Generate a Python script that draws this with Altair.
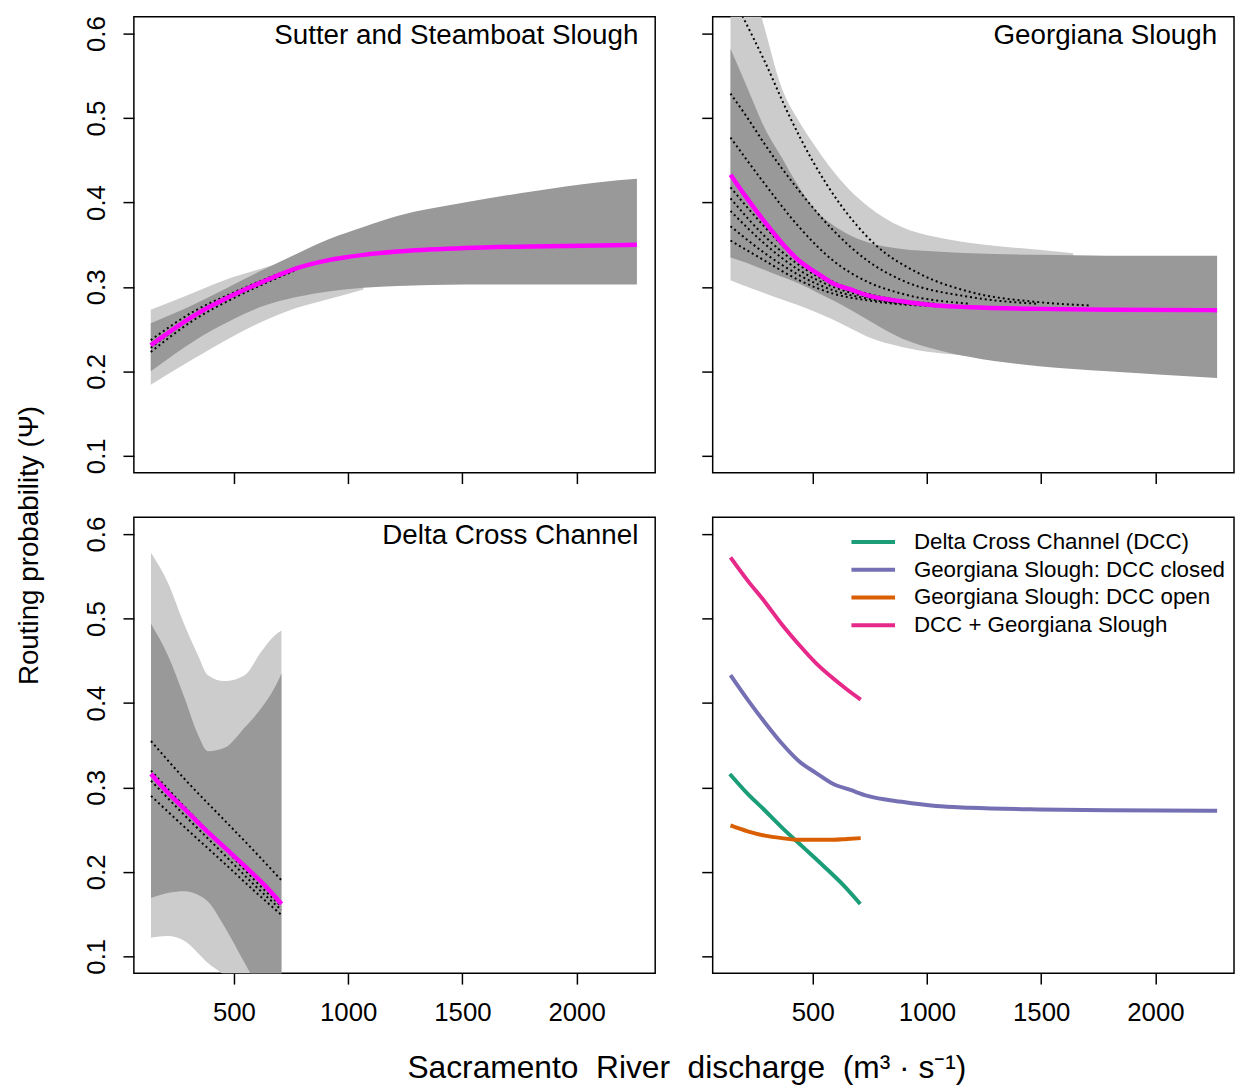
import altair as alt
import pandas as pd

FONT = "Liberation Sans"
LIGHT = "#cccccc"
DARK = "#999999"
MAGENTA = "#ff00ff"

# ---- Sutter and Steamboat Slough
ss_x = [136, 331, 478, 625, 773, 920, 1067, 1215, 1509, 1804, 2099, 2264]
ss_mean = [0.231, 0.267, 0.288, 0.306, 0.322, 0.332, 0.338, 0.342, 0.346, 0.348, 0.349, 0.350]
ss_dark_hi = [0.257, 0.280, 0.300, 0.320, 0.339, 0.357, 0.371, 0.384, 0.400, 0.413, 0.424, 0.428]
ss_dark_lo = [0.200, 0.237, 0.259, 0.277, 0.288, 0.295, 0.299, 0.301, 0.303, 0.303, 0.303, 0.303]
ss_light_x = [136, 331, 478, 625, 773, 920, 1067]
ss_light_hi = [0.273, 0.294, 0.310, 0.322, 0.333, 0.340, 0.345]
ss_light_lo = [0.184, 0.216, 0.239, 0.259, 0.275, 0.286, 0.297]
ss_dot_x = [136, 331, 478, 625, 773]
ss_dot_1 = [0.237, 0.272, 0.291, 0.308, 0.323]
ss_dot_2 = [0.228, 0.266, 0.287, 0.305, 0.321]
ss_dot_3 = [0.223, 0.262, 0.284, 0.303, 0.320]

# ---- Georgiana Slough
gs_x = [140, 215, 290, 365, 440, 515, 590, 665, 740, 890, 1040, 1190, 1490, 1790, 2270]
gs_mean = [0.433, 0.404, 0.377, 0.352, 0.331, 0.317, 0.304, 0.297, 0.290, 0.283, 0.278, 0.276, 0.274, 0.273, 0.2725]
gs_dark_hi = [0.582, 0.535, 0.488, 0.453, 0.418, 0.390, 0.373, 0.361, 0.353, 0.345, 0.342, 0.340, 0.338, 0.337, 0.337]
gs_dark_lo = [0.335, 0.328, 0.320, 0.312, 0.304, 0.294, 0.284, 0.273, 0.261, 0.239, 0.226, 0.217, 0.206, 0.200, 0.192]
gs_light_x = [140, 215, 275, 365, 440, 515, 590, 665, 740, 890, 1040, 1190, 1490, 1640]
gs_light_hi = [0.72, 0.67, 0.62, 0.535, 0.496, 0.465, 0.437, 0.414, 0.396, 0.371, 0.359, 0.352, 0.344, 0.340]
gs_light_lo = [0.308, 0.300, 0.294, 0.285, 0.278, 0.270, 0.261, 0.251, 0.241, 0.229, 0.222, 0.218, 0.208, 0.205]
gs_dot_1_x = [192, 290, 395, 500, 620, 770, 965, 1190, 1490, 1715]
gs_dot_1 = [0.621, 0.567, 0.504, 0.449, 0.398, 0.351, 0.316, 0.294, 0.282, 0.278]
gs_dot_2_x = [140, 215, 290, 440, 590, 740, 890, 1190, 1490]
gs_dot_2 = [0.529, 0.500, 0.469, 0.414, 0.367, 0.331, 0.308, 0.288, 0.280]
gs_dot_3_x = [140, 290, 440, 590, 740, 890, 1190]
gs_dot_3 = [0.477, 0.422, 0.371, 0.331, 0.306, 0.292, 0.280]
gs_dot_4_x = [140, 290, 440, 590, 740, 1040]
gs_dot_4 = [0.418, 0.371, 0.331, 0.306, 0.292, 0.280]
gs_dot_5 = [0.390, 0.351, 0.320, 0.300, 0.288, 0.278]
gs_dot_6 = [0.355, 0.331, 0.308, 0.292, 0.284, 0.277]
gs_dot_7 = [0.405, 0.360, 0.326, 0.303, 0.290, 0.279]
gs_dot_8 = [0.372, 0.340, 0.314, 0.296, 0.286, 0.278]

# ---- Delta Cross Channel
dcc_x = [137, 210, 284, 342, 386, 459, 547, 620, 678, 708]
dcc_dark_hi = [0.494, 0.457, 0.406, 0.363, 0.343, 0.347, 0.371, 0.394, 0.418, 0.435]
dcc_dark_lo = [0.169, 0.175, 0.177, 0.173, 0.165, 0.135, 0.092, 0.057, 0.033, 0.018]
dcc_light_hi = [0.578, 0.543, 0.492, 0.457, 0.433, 0.426, 0.433, 0.461, 0.480, 0.486]
dcc_light_lo = [0.122, 0.124, 0.118, 0.104, 0.092, 0.077, 0.049, 0.026, 0.010, -0.002]
dcc_mean_x = [137, 210, 284, 371, 459, 547, 635, 708]
dcc_mean = [0.316, 0.294, 0.2745, 0.251, 0.229, 0.207, 0.184, 0.162]
dcc_dot_x = [137, 284, 459, 591, 708]
dcc_dot_1 = [0.355, 0.310, 0.261, 0.224, 0.190]
dcc_dot_2 = [0.308, 0.267, 0.220, 0.184, 0.155]
dcc_dot_3 = [0.290, 0.253, 0.210, 0.177, 0.149]
dcc_dot_4 = [0.320, 0.277, 0.228, 0.190, 0.159]

# ---- comparison panel
cmp_x = [140, 215, 290, 365, 440, 515, 590, 650, 710]
gs_open = [0.255, 0.248, 0.243, 0.240, 0.238, 0.238, 0.238, 0.239, 0.240]
dcc_plus_gs = [0.5725, 0.545, 0.520, 0.493, 0.469, 0.447, 0.429, 0.416, 0.404]
series_names = ["Delta Cross Channel (DCC)", "Georgiana Slough: DCC closed",
                "Georgiana Slough: DCC open", "DCC + Georgiana Slough"]
series_colors = ["#1b9e77", "#7570b3", "#d95f02", "#e7298a"]

x_ticks = [500, 1000, 1500, 2000]
y_ticks = [0.1, 0.2, 0.3, 0.4, 0.5, 0.6]
W, H = 526, 460

XS = alt.Scale(domain=[62, 2344], nice=False, zero=False)
YS = alt.Scale(domain=[0.08, 0.62], nice=False, zero=False)


def xenc(labels):
    return alt.X("x:Q", scale=XS, title=None,
                 axis=alt.Axis(values=x_ticks, labels=labels, format="d", labelPadding=16))


def yenc(field, labels):
    return alt.Y(f"{field}:Q", scale=YS, title=None,
                 axis=alt.Axis(values=y_ticks, labels=labels, format=".1f",
                               labelAngle=270, labelAlign="center",
                               labelBaseline="bottom", labelPadding=14))


def band(xs, lo, hi, color, bx, by):
    df = pd.DataFrame({"x": xs, "lo": lo, "hi": hi})
    return alt.Chart(df).mark_area(color=color, clip=True, opacity=1,
                                   interpolate="monotone").encode(
        x=xenc(bx), y=yenc("lo", by), y2="hi:Q")


def dotted(lines, bx, by):
    rows = []
    for i, (xs, ys) in enumerate(lines):
        rows += [{"x": a, "y": b, "id": i} for a, b in zip(xs, ys)]
    return alt.Chart(pd.DataFrame(rows)).mark_line(
        color="black", strokeDash=[2, 3], strokeWidth=2, clip=True,
        interpolate="monotone").encode(
        x=xenc(bx), y=yenc("y", by), detail="id:N")


def mean_line(xs, ys, bx, by):
    df = pd.DataFrame({"x": xs, "y": ys})
    return alt.Chart(df).mark_line(color=MAGENTA, strokeWidth=4.5, clip=True,
                                   interpolate="monotone").encode(
        x=xenc(bx), y=yenc("y", by))


def label(text):
    return alt.Chart(pd.DataFrame({"t": [text]})).mark_text(
        align="right", baseline="middle", fontSize=28, font=FONT, color="black").encode(
        text="t:N", x=alt.value(W - 17), y=alt.value(19))


p_ss = alt.layer(
    band(ss_light_x, ss_light_lo, ss_light_hi, LIGHT, False, True),
    band(ss_x, ss_dark_lo, ss_dark_hi, DARK, False, True),
    dotted([(ss_dot_x, ss_dot_1), (ss_dot_x, ss_dot_2), (ss_dot_x, ss_dot_3)], False, True),
    mean_line(ss_x, ss_mean, False, True),
    label("Sutter and Steamboat Slough"),
).properties(width=W, height=H)

p_gs = alt.layer(
    band(gs_light_x, gs_light_lo, gs_light_hi, LIGHT, False, False),
    band(gs_x, gs_dark_lo, gs_dark_hi, DARK, False, False),
    dotted([(gs_dot_1_x, gs_dot_1), (gs_dot_2_x, gs_dot_2), (gs_dot_3_x, gs_dot_3),
            (gs_dot_4_x, gs_dot_4), (gs_dot_4_x, gs_dot_5), (gs_dot_4_x, gs_dot_6),
            (gs_dot_4_x, gs_dot_7), (gs_dot_4_x, gs_dot_8)], False, False),
    mean_line(gs_x, gs_mean, False, False),
    label("Georgiana Slough"),
).properties(width=W, height=H)

p_dcc = alt.layer(
    band(dcc_x, dcc_light_lo, dcc_light_hi, LIGHT, True, True),
    band(dcc_x, dcc_dark_lo, dcc_dark_hi, DARK, True, True),
    dotted([(dcc_dot_x, dcc_dot_1), (dcc_dot_x, dcc_dot_2), (dcc_dot_x, dcc_dot_3),
            (dcc_dot_x, dcc_dot_4)], True, True),
    mean_line(dcc_mean_x, dcc_mean, True, True),
    label("Delta Cross Channel"),
).properties(width=W, height=H)

cmp_rows = []
for name, xs, ys in [(series_names[0], dcc_mean_x, dcc_mean),
                     (series_names[1], gs_x, gs_mean),
                     (series_names[2], cmp_x, gs_open),
                     (series_names[3], cmp_x, dcc_plus_gs)]:
    cmp_rows += [{"x": a, "y": b, "s": name} for a, b in zip(xs, ys)]

p_cmp = alt.Chart(pd.DataFrame(cmp_rows)).mark_line(
    strokeWidth=4, clip=True, interpolate="monotone").encode(
    x=xenc(True),
    y=yenc("y", False),
    color=alt.Color("s:N", scale=alt.Scale(domain=series_names, range=series_colors),
                    sort=series_names,
                    legend=alt.Legend(title=None, orient="none", legendX=733, legendY=517,
                                      symbolType="M-2,0H2", symbolSize=484,
                                      symbolStrokeWidth=4, labelFontSize=22.5,
                                      labelFont=FONT, labelColor="black", labelLimit=500,
                                      labelOffset=28, rowPadding=3)),
).properties(width=W, height=H)

top = alt.hconcat(p_ss, p_gs, spacing=44)
bottom = alt.hconcat(p_dcc, p_cmp, spacing=44)

grid = alt.vconcat(top, bottom, spacing=30).properties(
    title=alt.TitleParams("Routing probability (\u03a8)", orient="left", anchor="middle",
                          fontSize=28, font=FONT, fontWeight="normal", color="black",
                          offset=39, dx=-25))

x_title = ("Sacramento\u00a0\u00a0River\u00a0\u00a0discharge"
           "\u00a0\u00a0(m\u00b3\u00a0\u00b7\u00a0s\u207b\u00b9)")

chart = alt.vconcat(grid).properties(
    title=alt.TitleParams(x_title, orient="bottom", anchor="middle", fontSize=32, font=FONT,
                          fontWeight="normal", color="black", offset=27, dx=62),
    padding={"left": 8, "top": 2, "right": 0, "bottom": 0},
).configure_view(
    stroke="black", strokeWidth=1.5
).configure_axis(
    domain=False, grid=False, tickSize=11, tickWidth=1.5, tickColor="black",
    labelFont=FONT, labelFontSize=26, labelColor="black"
)

chart.save("out.html", embed_options={"renderer": "svg", "actions": False})
